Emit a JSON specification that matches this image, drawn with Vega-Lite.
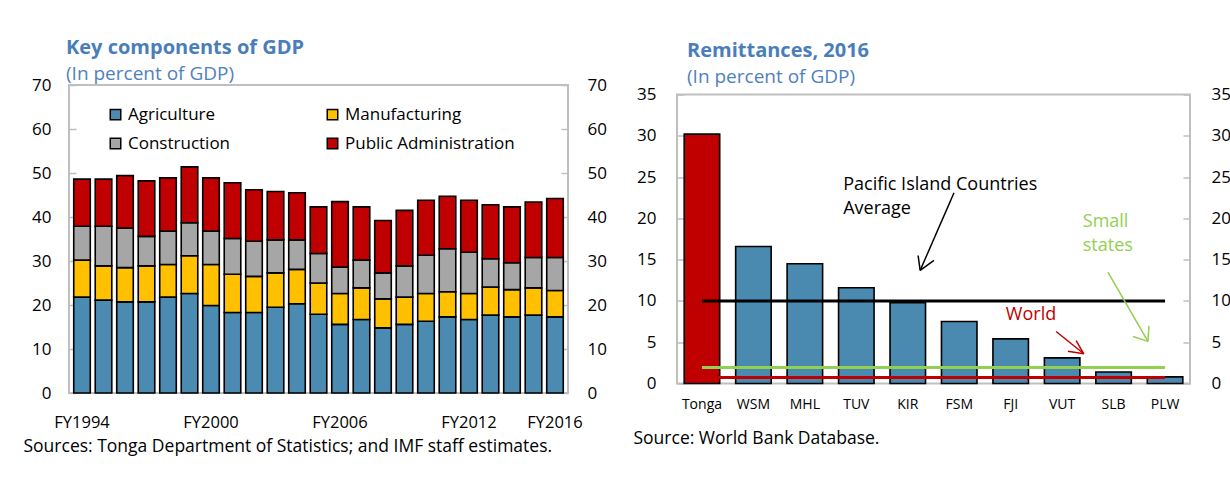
{
  "$schema": "https://vega.github.io/schema/vega-lite/v6.json",
  "padding": {"left": 22, "top": 37, "right": 0, "bottom": 0},
  "background": "white",
  "bounds": "flush",
  "center": true,
  "spacing": 109,
  "resolve": {"scale": {"color": "independent"}, "legend": {"color": "independent"}},
  "config": {
    "font": "Open Sans",
    "view": {"stroke": "#BFBFBF", "strokeWidth": 2},
    "axis": {"labelFont": "Open Sans", "labelFontSize": 17, "labelColor": "black", "domain": false, "grid": false, "tickColor": "#BFBFBF", "tickWidth": 1.5, "titleFont": "Open Sans", "titleFontWeight": "normal", "titleColor": "black", "titleFontSize": 17.5},
    "title": {"font": "Open Sans", "fontSize": 20, "fontWeight": "bold", "color": "#4A7EBB", "subtitleFont": "Open Sans", "subtitleFontSize": 19, "subtitleColor": "#4F81BD", "subtitlePadding": 7}
  },
  "hconcat": [
    {
      "width": 499,
      "height": 308,
      "title": {"text": "Key components of GDP", "subtitle": "(In percent of GDP)", "anchor": "start", "frame": "group", "dx": -3, "offset": -8},
      "data": {"values": [
        {"y":"FY1994","c":"Agriculture","k":1,"v":21.8},{"y":"FY1994","c":"Manufacturing","k":2,"v":8.4},{"y":"FY1994","c":"Construction","k":3,"v":7.7},{"y":"FY1994","c":"Public Administration","k":4,"v":10.7},
        {"y":"FY1995","c":"Agriculture","k":1,"v":21.1},{"y":"FY1995","c":"Manufacturing","k":2,"v":7.8},{"y":"FY1995","c":"Construction","k":3,"v":9.0},{"y":"FY1995","c":"Public Administration","k":4,"v":10.7},
        {"y":"FY1996","c":"Agriculture","k":1,"v":20.7},{"y":"FY1996","c":"Manufacturing","k":2,"v":7.8},{"y":"FY1996","c":"Construction","k":3,"v":9.0},{"y":"FY1996","c":"Public Administration","k":4,"v":11.9},
        {"y":"FY1997","c":"Agriculture","k":1,"v":20.7},{"y":"FY1997","c":"Manufacturing","k":2,"v":8.2},{"y":"FY1997","c":"Construction","k":3,"v":6.7},{"y":"FY1997","c":"Public Administration","k":4,"v":12.6},
        {"y":"FY1998","c":"Agriculture","k":1,"v":21.8},{"y":"FY1998","c":"Manufacturing","k":2,"v":7.4},{"y":"FY1998","c":"Construction","k":3,"v":7.6},{"y":"FY1998","c":"Public Administration","k":4,"v":12.1},
        {"y":"FY1999","c":"Agriculture","k":1,"v":22.6},{"y":"FY1999","c":"Manufacturing","k":2,"v":8.6},{"y":"FY1999","c":"Construction","k":3,"v":7.5},{"y":"FY1999","c":"Public Administration","k":4,"v":12.7},
        {"y":"FY2000","c":"Agriculture","k":1,"v":19.9},{"y":"FY2000","c":"Manufacturing","k":2,"v":9.3},{"y":"FY2000","c":"Construction","k":3,"v":7.6},{"y":"FY2000","c":"Public Administration","k":4,"v":12.1},
        {"y":"FY2001","c":"Agriculture","k":1,"v":18.3},{"y":"FY2001","c":"Manufacturing","k":2,"v":8.7},{"y":"FY2001","c":"Construction","k":3,"v":8.1},{"y":"FY2001","c":"Public Administration","k":4,"v":12.7},
        {"y":"FY2002","c":"Agriculture","k":1,"v":18.3},{"y":"FY2002","c":"Manufacturing","k":2,"v":8.2},{"y":"FY2002","c":"Construction","k":3,"v":8.0},{"y":"FY2002","c":"Public Administration","k":4,"v":11.7},
        {"y":"FY2003","c":"Agriculture","k":1,"v":19.5},{"y":"FY2003","c":"Manufacturing","k":2,"v":7.8},{"y":"FY2003","c":"Construction","k":3,"v":7.5},{"y":"FY2003","c":"Public Administration","k":4,"v":11.0},
        {"y":"FY2004","c":"Agriculture","k":1,"v":20.3},{"y":"FY2004","c":"Manufacturing","k":2,"v":7.8},{"y":"FY2004","c":"Construction","k":3,"v":6.7},{"y":"FY2004","c":"Public Administration","k":4,"v":10.7},
        {"y":"FY2005","c":"Agriculture","k":1,"v":17.9},{"y":"FY2005","c":"Manufacturing","k":2,"v":7.1},{"y":"FY2005","c":"Construction","k":3,"v":6.7},{"y":"FY2005","c":"Public Administration","k":4,"v":10.6},
        {"y":"FY2006","c":"Agriculture","k":1,"v":15.6},{"y":"FY2006","c":"Manufacturing","k":2,"v":7.0},{"y":"FY2006","c":"Construction","k":3,"v":6.0},{"y":"FY2006","c":"Public Administration","k":4,"v":14.9},
        {"y":"FY2007","c":"Agriculture","k":1,"v":16.7},{"y":"FY2007","c":"Manufacturing","k":2,"v":7.2},{"y":"FY2007","c":"Construction","k":3,"v":6.3},{"y":"FY2007","c":"Public Administration","k":4,"v":12.1},
        {"y":"FY2008","c":"Agriculture","k":1,"v":14.8},{"y":"FY2008","c":"Manufacturing","k":2,"v":6.6},{"y":"FY2008","c":"Construction","k":3,"v":5.9},{"y":"FY2008","c":"Public Administration","k":4,"v":11.9},
        {"y":"FY2009","c":"Agriculture","k":1,"v":15.6},{"y":"FY2009","c":"Manufacturing","k":2,"v":6.2},{"y":"FY2009","c":"Construction","k":3,"v":7.1},{"y":"FY2009","c":"Public Administration","k":4,"v":12.6},
        {"y":"FY2010","c":"Agriculture","k":1,"v":16.3},{"y":"FY2010","c":"Manufacturing","k":2,"v":6.3},{"y":"FY2010","c":"Construction","k":3,"v":8.7},{"y":"FY2010","c":"Public Administration","k":4,"v":12.5},
        {"y":"FY2011","c":"Agriculture","k":1,"v":17.3},{"y":"FY2011","c":"Manufacturing","k":2,"v":5.7},{"y":"FY2011","c":"Construction","k":3,"v":9.8},{"y":"FY2011","c":"Public Administration","k":4,"v":11.9},
        {"y":"FY2012","c":"Agriculture","k":1,"v":16.7},{"y":"FY2012","c":"Manufacturing","k":2,"v":5.9},{"y":"FY2012","c":"Construction","k":3,"v":9.4},{"y":"FY2012","c":"Public Administration","k":4,"v":11.8},
        {"y":"FY2013","c":"Agriculture","k":1,"v":17.7},{"y":"FY2013","c":"Manufacturing","k":2,"v":6.4},{"y":"FY2013","c":"Construction","k":3,"v":6.4},{"y":"FY2013","c":"Public Administration","k":4,"v":12.3},
        {"y":"FY2014","c":"Agriculture","k":1,"v":17.3},{"y":"FY2014","c":"Manufacturing","k":2,"v":6.2},{"y":"FY2014","c":"Construction","k":3,"v":6.1},{"y":"FY2014","c":"Public Administration","k":4,"v":12.7},
        {"y":"FY2015","c":"Agriculture","k":1,"v":17.7},{"y":"FY2015","c":"Manufacturing","k":2,"v":6.2},{"y":"FY2015","c":"Construction","k":3,"v":6.9},{"y":"FY2015","c":"Public Administration","k":4,"v":12.6},
        {"y":"FY2016","c":"Agriculture","k":1,"v":17.3},{"y":"FY2016","c":"Manufacturing","k":2,"v":6.0},{"y":"FY2016","c":"Construction","k":3,"v":7.5},{"y":"FY2016","c":"Public Administration","k":4,"v":13.4}
      ]},
      "layer": [
        {
          "mark": {"type": "bar", "stroke": "black", "strokeWidth": 1.6},
          "encoding": {
            "x": {"field": "y", "type": "ordinal", "scale": {"paddingInner": 0.23, "paddingOuter": 0.22},
                  "axis": {"values": ["FY1994", "FY2000", "FY2006", "FY2012", "FY2016"], "labelAngle": 0, "ticks": false, "labelPadding": 21, "labelFontSize": 16.5,
                           "title": "Sources: Tonga Department of Statistics; and IMF staff estimates.", "titleX": -46, "titleY": 53, "titleAlign": "left", "titleBaseline": "middle", "titleAnchor": "start"}},
            "y": {"field": "v", "type": "quantitative", "stack": "zero", "scale": {"domain": [0, 70], "nice": false},
                  "axis": {"orient": "left", "values": [0, 10, 20, 30, 40, 50, 60, 70], "tickSize": -7, "labelPadding": 25, "title": null}},
            "color": {"field": "c", "type": "nominal",
                      "scale": {"domain": ["Agriculture", "Construction", "Manufacturing", "Public Administration"], "range": ["#4B8BB2", "#A6A6A6", "#FFC000", "#C00000"]},
                      "legend": {"orient": "none", "legendX": 38, "legendY": 21, "columns": 2, "title": null, "symbolType": "square", "symbolSize": 110,
                                 "symbolStrokeColor": "black", "symbolStrokeWidth": 1.5, "labelFontSize": 17, "labelFont": "Open Sans", "labelColor": "black", "labelLimit": 400,
                                 "columnPadding": 93, "rowPadding": 11, "labelOffset": 4}},
            "order": {"field": "k", "type": "quantitative", "sort": "ascending"}
          }
        },
        {
          "mark": {"type": "tick", "opacity": 0},
          "encoding": {
            "y": {"field": "v", "type": "quantitative", "stack": null, "scale": {"domain": [0, 70], "nice": false},
                  "axis": {"orient": "right", "values": [0, 10, 20, 30, 40, 50, 60, 70], "tickSize": -7, "labelPadding": 26, "title": null}}
          }
        }
      ],
      "resolve": {"axis": {"y": "independent"}}
    },
    {
      "width": 513,
      "height": 289,
      "title": {"text": "Remittances, 2016", "subtitle": "(In percent of GDP)", "anchor": "start", "frame": "group", "dx": 10, "offset": -1},
      "layer": [
        {
          "layer": [
            {
              "data": {"values": [
                {"c":"Tonga","v":30.2},{"c":"WSM","v":16.6},{"c":"MHL","v":14.5},{"c":"TUV","v":11.6},{"c":"KIR","v":9.8},
                {"c":"FSM","v":7.5},{"c":"FJI","v":5.4},{"c":"VUT","v":3.1},{"c":"SLB","v":1.4},{"c":"PLW","v":0.8}
              ]},
              "mark": {"type": "bar", "stroke": "black", "strokeWidth": 1.6},
              "encoding": {
                "x": {"field": "c", "type": "nominal", "sort": null, "scale": {"paddingInner": 0.31, "paddingOuter": 0.14},
                      "axis": {"labelAngle": 0, "ticks": false, "labelFontSize": 14, "labelPadding": 14,
                               "title": "Source: World Bank Database.", "titleX": -44, "titleY": 55, "titleAlign": "left", "titleBaseline": "middle", "titleAnchor": "start"}},
                "y": {"field": "v", "type": "quantitative", "scale": {"domain": [0, 35], "nice": false},
                      "axis": {"orient": "left", "values": [0, 5, 10, 15, 20, 25, 30, 35], "tickSize": -7, "labelPadding": 28, "title": null}},
                "color": {"condition": {"test": "datum.c === 'Tonga'", "value": "#C00000"}, "value": "#4A8AB0"}
              }
            },
            {
              "data": {"values": [
                {"n":"World","v":0.73},{"n":"Small states","v":1.95},{"n":"PIC","v":10.0}
              ]},
              "mark": {"type": "rule", "strokeWidth": 3},
              "encoding": {
                "x": {"datum": "Tonga"},
                "x2": {"datum": "PLW"},
                "y": {"field": "v", "type": "quantitative", "scale": {"domain": [0, 35], "nice": false}, "axis": null},
                "color": {"field": "n", "type": "nominal", "scale": {"domain": ["PIC", "Small states", "World"], "range": ["#000000", "#92D050", "#C00000"]}, "legend": null}
              }
            },
            {
              "data": {"values": [{"v": 0}, {"v": 35}]},
              "mark": {"type": "tick", "opacity": 0},
              "encoding": {
                "y": {"field": "v", "type": "quantitative", "scale": {"domain": [0, 35], "nice": false},
                      "axis": {"orient": "right", "values": [0, 5, 10, 15, 20, 25, 30, 35], "tickSize": -7, "labelPadding": 28, "title": null}}
              }
            }
          ],
          "resolve": {"axis": {"y": "independent"}}
        },
        {
          "layer": [
            {
              "data": {"values": [
                {"n":"PIC","x1":5.40,"y1":23.1,"x2":4.74,"y2":13.7},
                {"n":"PIC","x1":4.74,"y1":13.7,"x2":5.01,"y2":14.9},
                {"n":"PIC","x1":4.74,"y1":13.7,"x2":4.70,"y2":15.5},
                {"n":"World","x1":7.39,"y1":6.3,"x2":7.93,"y2":3.6},
                {"n":"World","x1":7.93,"y1":3.6,"x2":7.78,"y2":5.2},
                {"n":"World","x1":7.93,"y1":3.6,"x2":7.62,"y2":3.9},
                {"n":"Small states","x1":8.40,"y1":13.5,"x2":9.18,"y2":5.1},
                {"n":"Small states","x1":9.18,"y1":5.1,"x2":9.20,"y2":7.0},
                {"n":"Small states","x1":9.18,"y1":5.1,"x2":8.89,"y2":5.7}
              ]},
              "mark": {"type": "rule", "strokeWidth": 1.5},
              "encoding": {
                "x": {"field": "x1", "type": "quantitative", "scale": {"domain": [0, 10], "nice": false, "zero": false}, "axis": null},
                "x2": {"field": "x2"},
                "y": {"field": "y1", "type": "quantitative", "scale": {"domain": [0, 35], "nice": false}, "axis": null},
                "y2": {"field": "y2"},
                "color": {"field": "n", "type": "nominal", "legend": null}
              }
            },
            {
              "data": {"values": [
                {"t":"Pacific Island Countries","x":3.24,"y":24.0,"n":"PIC"},
                {"t":"Average","x":3.24,"y":21.1,"n":"PIC"},
                {"t":"World","x":6.41,"y":8.25,"n":"World"},
                {"t":"Small","x":7.91,"y":19.5,"n":"Small states"},
                {"t":"states","x":7.91,"y":16.6,"n":"Small states"}
              ]},
              "mark": {"type": "text", "align": "left", "baseline": "middle", "fontSize": 18, "font": "Open Sans"},
              "encoding": {
                "x": {"field": "x", "type": "quantitative", "scale": {"domain": [0, 10], "nice": false, "zero": false}, "axis": null},
                "y": {"field": "y", "type": "quantitative", "scale": {"domain": [0, 35], "nice": false}, "axis": null},
                "text": {"field": "t"},
                "color": {"field": "n", "type": "nominal", "legend": null}
              }
            }
          ]
        }
      ],
      "resolve": {"scale": {"x": "independent"}, "axis": {"y": "independent"}}
    }
  ]
}
